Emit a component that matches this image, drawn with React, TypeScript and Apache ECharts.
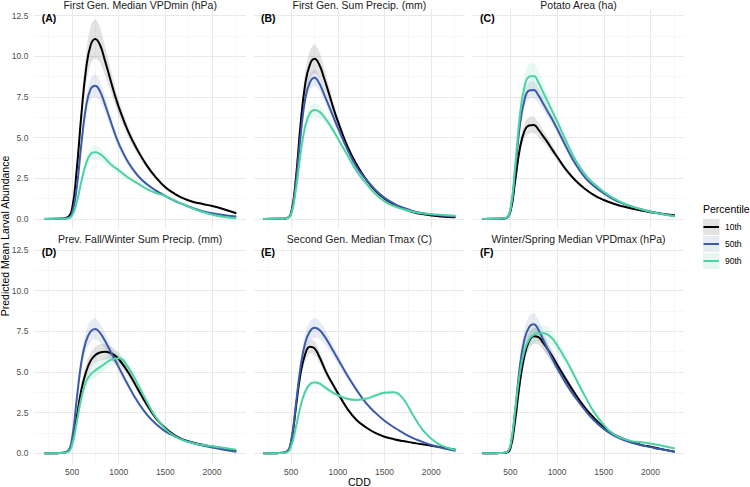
import React, { useEffect, useRef } from 'react';
import * as echarts from 'echarts';

// CDD values shared by every predicted curve
const cdd = [200, 350, 450, 500, 550, 600, 650, 700, 750, 800, 850, 900, 950, 1000, 1100, 1200, 1300, 1400, 1500, 1600, 1700, 1800, 1900, 2000, 2100, 2260];

const percentiles = ['10th', '50th', '90th'];
const panelTitles = [
  'First Gen. Median VPDmin (hPa)',
  'First Gen. Sum Precip. (mm)',
  'Potato Area (ha)',
  'Prev. Fall/Winter Sum Precip. (mm)',
  'Second Gen. Median Tmax (C)',
  'Winter/Spring Median VPDmax (hPa)',
];
const panelTags = ['(A)', '(B)', '(C)', '(D)', '(E)', '(F)'];
const xTickValues = [500, 1000, 1500, 2000];
const yTickValues = [0, 2.5, 5, 7.5, 10, 12.5];

// Predicted mean larval abundance, per panel and percentile
const a10 = [0, 0.01, 0.1, 0.6, 3.0, 6.4, 9.2, 10.7, 11.07, 10.7, 9.8, 8.8, 7.8, 6.9, 5.4, 4.25, 3.3, 2.55, 1.95, 1.55, 1.25, 1.05, 0.92, 0.8, 0.65, 0.35];
const a50 = [0, 0.01, 0.05, 0.35, 1.9, 4.6, 6.9, 8.0, 8.2, 7.85, 7.1, 6.25, 5.4, 4.65, 3.5, 2.7, 2.15, 1.75, 1.42, 1.12, 0.88, 0.66, 0.48, 0.36, 0.26, 0.15];
const a90 = [0, 0.01, 0.03, 0.2, 1.0, 2.3, 3.4, 4.0, 4.1, 4.0, 3.75, 3.45, 3.2, 3.0, 2.55, 2.2, 1.85, 1.6, 1.42, 1.15, 0.88, 0.64, 0.43, 0.27, 0.15, 0.05];

const b10 = [0, 0.01, 0.05, 0.4, 2.5, 5.8, 8.3, 9.5, 9.85, 9.5, 8.7, 7.8, 6.85, 6.0, 4.5, 3.35, 2.45, 1.75, 1.25, 0.9, 0.62, 0.43, 0.3, 0.22, 0.16, 0.1];
const b50 = [0, 0.01, 0.05, 0.35, 2.2, 5.1, 7.4, 8.4, 8.68, 8.35, 7.7, 7.0, 6.3, 5.6, 4.3, 3.2, 2.45, 1.8, 1.3, 0.95, 0.7, 0.5, 0.37, 0.28, 0.22, 0.15];
const b90 = [0, 0.01, 0.05, 0.3, 1.8, 4.0, 5.7, 6.5, 6.7, 6.6, 6.3, 5.9, 5.45, 4.95, 3.95, 2.95, 2.2, 1.55, 1.08, 0.8, 0.6, 0.45, 0.36, 0.3, 0.26, 0.2];

const c10 = [0, 0.01, 0.05, 0.45, 2.3, 4.3, 5.4, 5.75, 5.78, 5.5, 5.1, 4.7, 4.25, 3.83, 3.0, 2.35, 1.85, 1.45, 1.17, 0.95, 0.78, 0.64, 0.52, 0.42, 0.34, 0.23];
const c50 = [0, 0.01, 0.06, 0.55, 2.9, 5.7, 7.3, 7.9, 7.93, 7.6, 7.1, 6.6, 6.1, 5.55, 4.4, 3.35, 2.55, 2.0, 1.58, 1.22, 0.96, 0.76, 0.6, 0.46, 0.34, 0.2];
const c90 = [0, 0.01, 0.07, 0.6, 3.2, 6.3, 8.1, 8.75, 8.79, 8.4, 7.8, 7.2, 6.6, 6.0, 4.75, 3.6, 2.75, 2.15, 1.68, 1.3, 1.0, 0.78, 0.6, 0.45, 0.32, 0.15];

const d10 = [0, 0.01, 0.1, 0.6, 2.2, 3.9, 5.0, 5.7, 6.05, 6.2, 6.25, 6.2, 6.05, 5.8, 5.0, 4.0, 3.0, 2.15, 1.55, 1.1, 0.82, 0.65, 0.52, 0.42, 0.32, 0.15];
const d50 = [0, 0.01, 0.12, 0.9, 3.3, 5.6, 6.9, 7.5, 7.65, 7.4, 6.95, 6.4, 5.85, 5.3, 4.2, 3.2, 2.4, 1.8, 1.35, 1.05, 0.8, 0.62, 0.48, 0.36, 0.25, 0.1];
const d90 = [0, 0.01, 0.06, 0.5, 1.9, 3.4, 4.4, 4.85, 5.1, 5.3, 5.5, 5.7, 5.8, 5.85, 5.3, 4.3, 3.2, 2.2, 1.5, 1.05, 0.78, 0.62, 0.52, 0.44, 0.36, 0.22];

const e10 = [0, 0.01, 0.08, 0.7, 2.8, 4.9, 6.1, 6.55, 6.45, 5.95, 5.3, 4.7, 4.2, 3.7, 2.75, 2.05, 1.6, 1.25, 1.02, 0.87, 0.75, 0.65, 0.55, 0.47, 0.38, 0.22];
const e50 = [0, 0.01, 0.1, 0.8, 3.0, 5.3, 6.8, 7.5, 7.72, 7.6, 7.25, 6.8, 6.3, 5.8, 4.8, 3.9, 3.1, 2.5, 2.0, 1.6, 1.25, 0.95, 0.72, 0.52, 0.35, 0.15];
const e90 = [0, 0.01, 0.05, 0.45, 1.6, 2.9, 3.8, 4.25, 4.35, 4.3, 4.1, 3.9, 3.72, 3.57, 3.35, 3.28, 3.35, 3.55, 3.72, 3.75, 3.35, 2.4, 1.5, 0.9, 0.5, 0.2];

const f10 = [0, 0.01, 0.03, 0.3, 2.0, 4.3, 6.0, 6.9, 7.2, 7.15, 6.8, 6.4, 5.95, 5.45, 4.5, 3.6, 2.8, 2.15, 1.6, 1.2, 0.92, 0.7, 0.52, 0.4, 0.28, 0.1];
const f50 = [0, 0.01, 0.05, 0.45, 2.6, 5.3, 7.0, 7.75, 7.93, 7.6, 7.0, 6.4, 5.8, 5.25, 4.25, 3.4, 2.65, 2.0, 1.5, 1.12, 0.85, 0.65, 0.5, 0.38, 0.26, 0.1];
const f90 = [0, 0.01, 0.05, 0.5, 2.6, 4.9, 6.3, 7.0, 7.3, 7.38, 7.38, 7.3, 7.05, 6.65, 5.7, 4.6, 3.5, 2.5, 1.75, 1.2, 0.92, 0.75, 0.68, 0.6, 0.5, 0.3];

// Half-width of the confidence ribbon around each mean curve
const a10Ci = [0, 0, 0.02, 0.1, 0.4, 0.7, 1.0, 1.15, 1.2, 1.1, 0.9, 0.75, 0.6, 0.5, 0.35, 0.25, 0.18, 0.12, 0.1, 0.08, 0.07, 0.06, 0.06, 0.06, 0.06, 0.06];
const a50Ci = [0, 0, 0.01, 0.05, 0.2, 0.4, 0.55, 0.65, 0.7, 0.6, 0.5, 0.4, 0.35, 0.3, 0.2, 0.15, 0.1, 0.08, 0.06, 0.05, 0.05, 0.04, 0.04, 0.04, 0.04, 0.04];
const a90Ci = [0, 0, 0.01, 0.03, 0.12, 0.25, 0.35, 0.4, 0.42, 0.38, 0.32, 0.28, 0.24, 0.2, 0.15, 0.12, 0.1, 0.08, 0.06, 0.05, 0.04, 0.04, 0.03, 0.03, 0.03, 0.03];

const b10Ci = [0, 0, 0.01, 0.06, 0.3, 0.55, 0.75, 0.85, 0.88, 0.8, 0.65, 0.5, 0.4, 0.32, 0.2, 0.13, 0.1, 0.07, 0.05, 0.04, 0.03, 0.03, 0.03, 0.03, 0.03, 0.03];
const b50Ci = [0, 0, 0.01, 0.04, 0.2, 0.35, 0.45, 0.5, 0.5, 0.45, 0.38, 0.3, 0.25, 0.2, 0.14, 0.1, 0.07, 0.05, 0.04, 0.03, 0.03, 0.03, 0.03, 0.03, 0.03, 0.03];
const b90Ci = [0, 0, 0.01, 0.03, 0.15, 0.3, 0.38, 0.42, 0.42, 0.38, 0.32, 0.26, 0.22, 0.18, 0.12, 0.09, 0.07, 0.05, 0.04, 0.03, 0.03, 0.03, 0.03, 0.03, 0.03, 0.03];

const c10Ci = [0, 0, 0.01, 0.06, 0.25, 0.4, 0.48, 0.5, 0.5, 0.45, 0.38, 0.32, 0.27, 0.22, 0.15, 0.1, 0.07, 0.05, 0.04, 0.04, 0.03, 0.03, 0.03, 0.03, 0.03, 0.03];
const c50Ci = [0, 0, 0.01, 0.07, 0.3, 0.45, 0.5, 0.52, 0.52, 0.46, 0.4, 0.34, 0.28, 0.24, 0.17, 0.12, 0.09, 0.06, 0.05, 0.04, 0.04, 0.03, 0.03, 0.03, 0.03, 0.03];
const c90Ci = [0, 0, 0.01, 0.08, 0.4, 0.65, 0.78, 0.82, 0.8, 0.7, 0.58, 0.48, 0.4, 0.33, 0.22, 0.15, 0.1, 0.07, 0.05, 0.04, 0.04, 0.03, 0.03, 0.03, 0.03, 0.03];

const d10Ci = [0, 0, 0.02, 0.1, 0.3, 0.42, 0.48, 0.5, 0.5, 0.5, 0.48, 0.45, 0.4, 0.35, 0.28, 0.2, 0.14, 0.1, 0.07, 0.05, 0.04, 0.04, 0.04, 0.04, 0.04, 0.04];
const d50Ci = [0, 0, 0.02, 0.12, 0.4, 0.55, 0.62, 0.65, 0.65, 0.58, 0.5, 0.42, 0.35, 0.3, 0.2, 0.14, 0.1, 0.07, 0.05, 0.04, 0.04, 0.04, 0.04, 0.04, 0.04, 0.04];
const d90Ci = [0, 0, 0.01, 0.06, 0.2, 0.3, 0.35, 0.38, 0.4, 0.4, 0.4, 0.4, 0.38, 0.36, 0.3, 0.22, 0.15, 0.1, 0.07, 0.05, 0.04, 0.04, 0.04, 0.04, 0.04, 0.04];

const e10Ci = [0, 0, 0.02, 0.1, 0.3, 0.4, 0.45, 0.45, 0.42, 0.36, 0.3, 0.25, 0.2, 0.17, 0.12, 0.09, 0.07, 0.05, 0.04, 0.04, 0.04, 0.04, 0.04, 0.04, 0.04, 0.04];
const e50Ci = [0, 0, 0.02, 0.12, 0.35, 0.5, 0.58, 0.6, 0.6, 0.55, 0.48, 0.42, 0.36, 0.3, 0.22, 0.16, 0.12, 0.09, 0.07, 0.06, 0.05, 0.04, 0.04, 0.04, 0.04, 0.04];
const e90Ci = [0, 0, 0.01, 0.05, 0.12, 0.16, 0.18, 0.18, 0.18, 0.16, 0.14, 0.12, 0.11, 0.1, 0.1, 0.1, 0.1, 0.11, 0.12, 0.12, 0.11, 0.09, 0.07, 0.05, 0.04, 0.04];

const f10Ci = [0, 0, 0.01, 0.05, 0.25, 0.4, 0.48, 0.5, 0.5, 0.48, 0.44, 0.4, 0.35, 0.3, 0.22, 0.15, 0.1, 0.07, 0.05, 0.04, 0.04, 0.04, 0.04, 0.04, 0.04, 0.04];
const f50Ci = [0, 0, 0.01, 0.06, 0.35, 0.55, 0.65, 0.7, 0.7, 0.62, 0.52, 0.44, 0.36, 0.3, 0.2, 0.14, 0.1, 0.07, 0.05, 0.04, 0.04, 0.04, 0.04, 0.04, 0.04, 0.04];
const f90Ci = [0, 0, 0.01, 0.06, 0.3, 0.42, 0.48, 0.5, 0.5, 0.5, 0.5, 0.48, 0.44, 0.4, 0.3, 0.2, 0.14, 0.1, 0.07, 0.05, 0.04, 0.04, 0.04, 0.04, 0.04, 0.04];

const panelMeans = [[a10, a50, a90], [b10, b50, b90], [c10, c50, c90], [d10, d50, d90], [e10, e50, e90], [f10, f50, f90]];
const panelCis = [[a10Ci, a50Ci, a90Ci], [b10Ci, b50Ci, b90Ci], [c10Ci, c50Ci, c90Ci], [d10Ci, d50Ci, d90Ci], [e10Ci, e50Ci, e90Ci], [f10Ci, f50Ci, f90Ci]];

// Styling
const LINE_COLORS = ['#000000', '#3B5BA8', '#4DD2A3'];
const RIBBON_COLORS = ['rgba(0,0,0,0.11)', 'rgba(59,91,168,0.12)', 'rgba(77,210,163,0.13)'];
const KEY_FILLS = ['#e3e3e3', '#e7ebf4', '#e4f8f1'];
const FONT = '"Liberation Sans", Arial, Helvetica, sans-serif';

const COL_LEFT = [34.4, 253.6, 472.8];
const ROW_TOP = [9, 243.3];
const PANEL_W = 211.5;
const PANEL_H = 220;
const X_MIN = 97;
const X_MAX = 2363;
const Y_MIN = -0.615;
const Y_MAX = 12.915;

function buildOption() {
  const grids: any[] = [];
  const xAxes: any[] = [];
  const yAxes: any[] = [];
  const series: any[] = [];
  const graphics: any[] = [];

  for (let p = 0; p < 6; p++) {
    const col = p % 3;
    const row = Math.floor(p / 3);
    const left = COL_LEFT[col];
    const top = ROW_TOP[row];

    grids.push({ left, top, width: PANEL_W, height: PANEL_H, containLabel: false });

    xAxes.push({
      type: 'value',
      gridIndex: p,
      min: X_MIN,
      max: X_MAX,
      splitNumber: 4,
      minInterval: 500,
      maxInterval: 500,
      axisLine: { show: false },
      axisTick: { show: false },
      minorTick: { show: false, splitNumber: 2 },
      axisLabel: {
        show: row === 1,
        showMinLabel: false,
        showMaxLabel: false,
        color: '#4d4d4d',
        fontSize: 8.5,
        fontFamily: FONT,
        margin: 4,
        formatter: (v: number) => (xTickValues.includes(v) ? String(v) : ''),
      },
      splitLine: { show: true, showMinLine: false, showMaxLine: false, lineStyle: { color: '#e9e9e9', width: 1 } },
      minorSplitLine: { show: true, lineStyle: { color: '#f3f3f3', width: 0.7 } },
    });

    yAxes.push({
      type: 'value',
      gridIndex: p,
      min: Y_MIN,
      max: Y_MAX,
      splitNumber: 5,
      minInterval: 2.5,
      maxInterval: 2.5,
      axisLine: { show: false },
      axisTick: { show: false },
      minorTick: { show: false, splitNumber: 2 },
      axisLabel: {
        show: col === 0,
        showMinLabel: false,
        showMaxLabel: false,
        color: '#4d4d4d',
        fontSize: 8.5,
        fontFamily: FONT,
        margin: 6,
        formatter: (v: number) => (yTickValues.includes(v) ? v.toFixed(1) : ''),
      },
      splitLine: { show: true, showMinLine: false, showMaxLine: false, lineStyle: { color: '#e9e9e9', width: 1 } },
      minorSplitLine: { show: true, lineStyle: { color: '#f3f3f3', width: 0.7 } },
    });

    // confidence ribbons under the lines
    for (let s = 0; s < 3; s++) {
      const mean = panelMeans[p][s];
      const ci = panelCis[p][s];
      const rows = cdd.map((x, i) => [x, mean[i] - ci[i], mean[i] + ci[i]]);
      series.push({
        type: 'custom',
        name: `ribbon-${p}-${s}`,
        xAxisIndex: p,
        yAxisIndex: p,
        silent: true,
        clip: true,
        z: 2,
        data: rows,
        encode: { x: 0, y: [1, 2] },
        renderItem: (params: any, api: any) => {
          if (params.dataIndex !== 0) return { type: 'group', children: [] };
          const upper = rows.map((r) => api.coord([r[0], r[2]]));
          const lower = rows.map((r) => api.coord([r[0], r[1]])).reverse();
          return {
            type: 'polygon',
            shape: { points: upper.concat(lower), smooth: 0.35 },
            style: { fill: RIBBON_COLORS[s], stroke: 'none' },
          };
        },
      });
    }

    for (let s = 0; s < 3; s++) {
      const mean = panelMeans[p][s];
      series.push({
        type: 'line',
        name: percentiles[s],
        xAxisIndex: p,
        yAxisIndex: p,
        data: cdd.map((x, i) => [x, mean[i]]),
        showSymbol: false,
        symbol: 'none',
        smooth: 0.45,
        clip: true,
        silent: true,
        z: 3,
        lineStyle: { color: LINE_COLORS[s], width: 2 },
        itemStyle: { color: LINE_COLORS[s] },
      });
    }

    // strip title and panel tag
    graphics.push({
      type: 'text',
      z: 50,
      x: left + PANEL_W / 2,
      y: top - 4,
      style: {
        text: panelTitles[p],
        fill: '#1a1a1a',
        fontSize: 10.5,
        fontFamily: FONT,
        textAlign: 'center',
        textVerticalAlign: 'middle',
      },
    });
    graphics.push({
      type: 'text',
      z: 50,
      x: left + 7.3,
      y: top + 8.6,
      style: {
        text: panelTags[p],
        fill: '#000000',
        fontSize: 10.5,
        fontWeight: 'bold',
        fontFamily: FONT,
        textAlign: 'left',
        textVerticalAlign: 'middle',
      },
    });
  }

  // axis titles
  graphics.push({
    type: 'text',
    z: 50,
    x: 5,
    y: 236,
    rotation: Math.PI / 2,
    style: {
      text: 'Predicted Mean Larval Abundance',
      fill: '#000000',
      fontSize: 10.5,
      fontFamily: FONT,
      textAlign: 'center',
      textVerticalAlign: 'middle',
    },
  });
  graphics.push({
    type: 'text',
    z: 50,
    x: (COL_LEFT[0] + COL_LEFT[2] + PANEL_W) / 2,
    y: 481.5,
    style: {
      text: 'CDD',
      fill: '#000000',
      fontSize: 10.5,
      fontFamily: FONT,
      textAlign: 'center',
      textVerticalAlign: 'middle',
    },
  });

  // legend
  graphics.push({
    type: 'text',
    z: 50,
    x: 703,
    y: 209,
    style: {
      text: 'Percentile',
      fill: '#000000',
      fontSize: 10.5,
      fontFamily: FONT,
      textAlign: 'left',
      textVerticalAlign: 'middle',
    },
  });
  const keyY = [227, 244, 261];
  percentiles.forEach((label, s) => {
    graphics.push({
      type: 'rect',
      z: 50,
      shape: { x: 703, y: keyY[s] - 8, width: 16.5, height: 16 },
      style: { fill: KEY_FILLS[s] },
    });
    graphics.push({
      type: 'line',
      z: 51,
      shape: { x1: 703.5, y1: keyY[s], x2: 719, y2: keyY[s] },
      style: { stroke: LINE_COLORS[s], lineWidth: 2 },
    });
    graphics.push({
      type: 'text',
      z: 50,
      x: 725,
      y: keyY[s],
      style: {
        text: label,
        fill: '#000000',
        fontSize: 8.5,
        fontFamily: FONT,
        textAlign: 'left',
        textVerticalAlign: 'middle',
      },
    });
  });

  return {
    animation: false,
    backgroundColor: '#ffffff',
    textStyle: { fontFamily: FONT },
    grid: grids,
    xAxis: xAxes,
    yAxis: yAxes,
    series,
    graphic: graphics,
  };
}

export default function App() {
  const ref = useRef<HTMLDivElement>(null);

  useEffect(() => {
    document.body.style.margin = '0';
    if (!ref.current) return;
    const chart = echarts.init(ref.current, undefined, { renderer: 'svg' });
    chart.setOption(buildOption());
    return () => chart.dispose();
  }, []);

  return <div ref={ref} style={{ width: 750, height: 487 }} />;
}
